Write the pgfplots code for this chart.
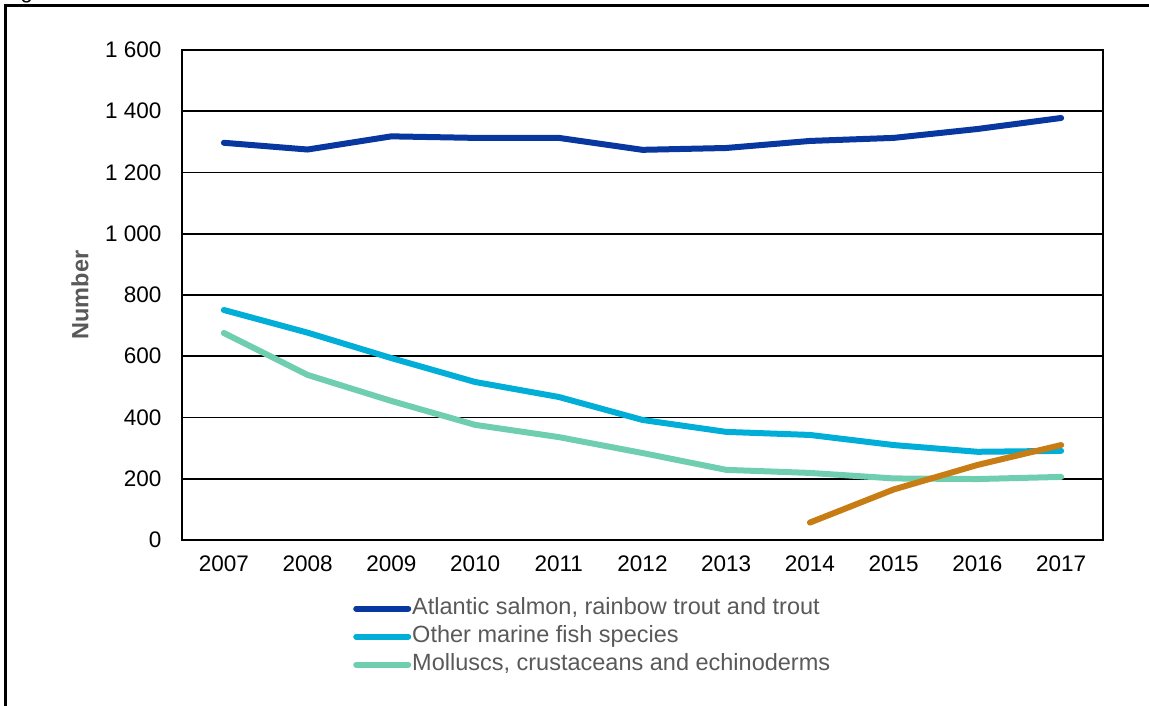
\documentclass[border=0pt]{standalone}
\usepackage{fontspec}
\setmainfont{Liberation Sans}
\usepackage{pgfplots}
\pgfplotsset{compat=1.18}
\definecolor{cblue}{RGB}{8,55,160}
\definecolor{ccyan}{RGB}{0,174,216}
\definecolor{cgreen}{RGB}{112,206,176}
\definecolor{corange}{RGB}{200,125,20}
\definecolor{cgrey}{RGB}{89,89,89}
\begin{document}
\begin{tikzpicture}[x=1pt,y=1pt]
\useasboundingbox (0,0) rectangle (1149,706);
\draw[line width=3pt] (5.5,-20) -- (5.5,700.5) -- (1170,700.5);
\node[anchor=base west, inner sep=0, font=\fontsize{22}{26}\selectfont] at (2,707.5) {Fig};
\begin{axis}[
  at={(182pt,166pt)}, anchor=south west,
  scale only axis, width=921pt, height=490pt,
  xmin=2006.5, xmax=2017.5, ymin=0, ymax=1600,
  xtick={2007,2008,2009,2010,2011,2012,2013,2014,2015,2016,2017},
  xticklabels={2007,2008,2009,2010,2011,2012,2013,2014,2015,2016,2017},
  ytick={0,200,400,600,800,1000,1200,1400,1600},
  yticklabels={0,200,400,600,800,1 000,1 200,1 400,1 600},
  major tick length=0pt,
  ymajorgrids,
  grid style={black, line width=1.6pt},
  axis line style={black, line width=1.8pt},
  tick label style={font=\fontsize{22.5}{26}\selectfont, text=black},
  yticklabel style={xshift=-17pt},
  xticklabel style={yshift=-12pt},
  ylabel={\textbf{Number}},
  ylabel style={at={(axis description cs:-0.1107,0.5)}, anchor=center, font=\fontsize{23.5}{27}\selectfont, text=cgrey},
  legend style={at={(axis description cs:0.1857,-0.111)}, anchor=north west, draw=none, fill=none,
    font=\fontsize{23.5}{27}\selectfont, text=cgrey, row sep=0pt, inner sep=0pt,
    nodes={inner xsep=1pt, inner ysep=3pt, text height=17pt, text depth=5pt}},
  legend cell align=left,
  legend image code/.code={\draw[#1, line cap=round] (0pt,0pt) -- (52pt,0pt);},
  every axis plot/.append style={line width=6pt, line join=round, line cap=round},
]
\addplot[cblue] coordinates {(2007,1297)(2008,1275)(2009,1318)(2010,1313)(2011,1313)(2012,1274)(2013,1280)(2014,1303)(2015,1313)(2016,1342)(2017,1378)};
\addlegendentry{Atlantic salmon, rainbow trout and trout}
\addplot[ccyan] coordinates {(2007,751)(2008,677)(2009,594)(2010,516)(2011,467)(2012,392)(2013,353)(2014,343)(2015,310)(2016,288)(2017,291)};
\addlegendentry{Other marine fish species}
\addplot[cgreen] coordinates {(2007,676)(2008,539)(2009,454)(2010,376)(2011,336)(2012,284)(2013,229)(2014,219)(2015,201)(2016,199)(2017,206)};
\addlegendentry{Molluscs, crustaceans and echinoderms}
\addplot[corange, forget plot] coordinates {(2014,57)(2015,165)(2016,245)(2017,310)};
\end{axis}
\end{tikzpicture}
\end{document}
